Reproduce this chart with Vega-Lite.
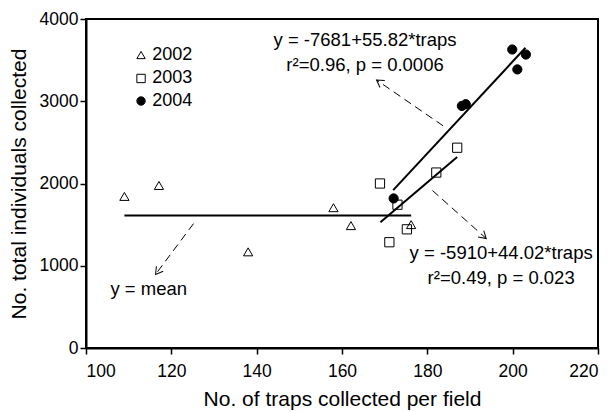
{
  "$schema": "https://vega.github.io/schema/vega-lite/v6.json",
  "width": 512,
  "height": 329,
  "autosize": {"type": "none"},
  "padding": {"left": 86, "top": 19, "right": 16, "bottom": 64},
  "background": "white",
  "config": {
    "font": "Liberation Sans",
    "view": {"stroke": "black", "strokeWidth": 2},
    "axis": {
      "grid": false,
      "domainColor": "black",
      "domainWidth": 2,
      "tickColor": "black",
      "tickWidth": 1.5,
      "tickSize": 6,
      "labelColor": "black",
      "labelFontSize": 17.5,
      "labelFont": "Liberation Sans",
      "titleFont": "Liberation Sans",
      "titleFontSize": 21,
      "titleFontWeight": "normal",
      "titleColor": "black"
    }
  },
  "datasets": {
    "points": [
      {"year": "2002", "traps": 109.0, "total": 1843},
      {"year": "2002", "traps": 117.1, "total": 1976},
      {"year": "2002", "traps": 138.0, "total": 1169},
      {"year": "2002", "traps": 158.0, "total": 1706},
      {"year": "2002", "traps": 162.1, "total": 1488},
      {"year": "2002", "traps": 176.2, "total": 1500},
      {"year": "2003", "traps": 168.9, "total": 2000},
      {"year": "2003", "traps": 173.0, "total": 1742},
      {"year": "2003", "traps": 171.1, "total": 1286},
      {"year": "2003", "traps": 175.2, "total": 1443},
      {"year": "2003", "traps": 182.1, "total": 2133},
      {"year": "2003", "traps": 187.0, "total": 2435},
      {"year": "2004", "traps": 172.1, "total": 1818},
      {"year": "2004", "traps": 188.1, "total": 2943},
      {"year": "2004", "traps": 189.0, "total": 2964},
      {"year": "2004", "traps": 199.9, "total": 3629},
      {"year": "2004", "traps": 201.1, "total": 3387},
      {"year": "2004", "traps": 203.1, "total": 3568}
    ],
    "legendRows": [
      {"year": "2002", "sx": 112.9, "lx": 115.5, "y": 3562},
      {"year": "2003", "sx": 112.9, "lx": 115.5, "y": 3277},
      {"year": "2004", "sx": 112.9, "lx": 115.5, "y": 3003}
    ],
    "fits": [
      {"fit": "mean", "x1": 109, "y1": 1610, "x2": 176.2, "y2": 1610},
      {"fit": "2004", "x1": 172, "y1": 1920, "x2": 203, "y2": 3650},
      {"fit": "2003", "x1": 169, "y1": 1529, "x2": 187, "y2": 2322}
    ],
    "arrows": [
      {"arrow": "mean", "x1": 125.2, "y1": 1512, "x2": 116.3, "y2": 895, "angle": 127},
      {"arrow": "2004", "x1": 183.7, "y1": 2701, "x2": 168.1, "y2": 3258, "angle": 214.5},
      {"arrow": "2003", "x1": 181.2, "y1": 1915, "x2": 193.8, "y2": 1331, "angle": 41.7}
    ],
    "labels": [
      {"x": 165.4, "y": 3750, "label": "y = -7681+55.82*traps"},
      {"x": 165.4, "y": 3435, "label": "r²=0.96, p = 0.0006"},
      {"x": 197.3, "y": 1149, "label": "y = -5910+44.02*traps"},
      {"x": 197.3, "y": 847, "label": "r²=0.49, p = 0.023"},
      {"x": 114.7, "y": 714, "label": "y = mean"}
    ]
  },
  "layer": [
    {
      "data": {"name": "fits"},
      "mark": {"type": "rule", "color": "black", "strokeWidth": 2},
      "encoding": {
        "x": {"field": "x1", "type": "quantitative", "scale": {"domain": [100, 220], "nice": false},
          "axis": {"values": [100, 120, 140, 160, 180, 200, 220], "format": "d", "title": "No. of traps collected per field", "titlePadding": 9, "labelPadding": 8}},
        "y": {"field": "y1", "type": "quantitative", "scale": {"domain": [0, 4000], "nice": false},
          "axis": {"values": [0, 1000, 2000, 3000, 4000], "format": "d", "title": "No. total individuals collected", "titlePadding": 10, "labelPadding": 2}},
        "x2": {"field": "x2"},
        "y2": {"field": "y2"}
      }
    },
    {
      "data": {"name": "arrows"},
      "mark": {"type": "rule", "color": "black", "strokeWidth": 1, "strokeDash": [8, 5]},
      "encoding": {
        "x": {"field": "x1", "type": "quantitative"},
        "y": {"field": "y1", "type": "quantitative"},
        "x2": {"field": "x2"},
        "y2": {"field": "y2"}
      }
    },
    {
      "data": {"name": "arrows"},
      "mark": {"type": "point", "shape": "M -1 -0.6 L 0 0 L -1 0.6", "filled": false, "stroke": "black", "strokeWidth": 1, "size": 200, "opacity": 1},
      "encoding": {
        "x": {"field": "x2", "type": "quantitative"},
        "y": {"field": "y2", "type": "quantitative"},
        "angle": {"field": "angle", "type": "quantitative", "scale": null}
      }
    },
    {
      "data": {"name": "points"},
      "mark": {"type": "point", "stroke": "black", "strokeWidth": 1, "size": 85, "opacity": 1},
      "encoding": {
        "x": {"field": "traps", "type": "quantitative"},
        "y": {"field": "total", "type": "quantitative"},
        "shape": {"field": "year", "type": "nominal", "scale": {"domain": ["2002", "2003", "2004"], "range": ["triangle-up", "square", "circle"]}, "legend": null},
        "fill": {"field": "year", "type": "nominal", "scale": {"domain": ["2002", "2003", "2004"], "range": ["transparent", "transparent", "black"]}, "legend": null}
      }
    },
    {
      "data": {"name": "legendRows"},
      "mark": {"type": "point", "stroke": "black", "strokeWidth": 1, "size": 70, "opacity": 1},
      "encoding": {
        "x": {"field": "sx", "type": "quantitative"},
        "y": {"field": "y", "type": "quantitative"},
        "shape": {"field": "year", "type": "nominal", "legend": null},
        "fill": {"field": "year", "type": "nominal", "legend": null}
      }
    },
    {
      "data": {"name": "legendRows"},
      "mark": {"type": "text", "font": "Liberation Sans", "fontSize": 18, "color": "black", "align": "left", "baseline": "middle"},
      "encoding": {
        "x": {"field": "lx", "type": "quantitative"},
        "y": {"field": "y", "type": "quantitative"},
        "text": {"field": "year", "type": "nominal"}
      }
    },
    {
      "data": {"name": "labels"},
      "mark": {"type": "text", "font": "Liberation Sans", "fontSize": 18.5, "color": "black", "align": "center", "baseline": "middle"},
      "encoding": {
        "x": {"field": "x", "type": "quantitative"},
        "y": {"field": "y", "type": "quantitative"},
        "text": {"field": "label", "type": "nominal"}
      }
    }
  ]
}
